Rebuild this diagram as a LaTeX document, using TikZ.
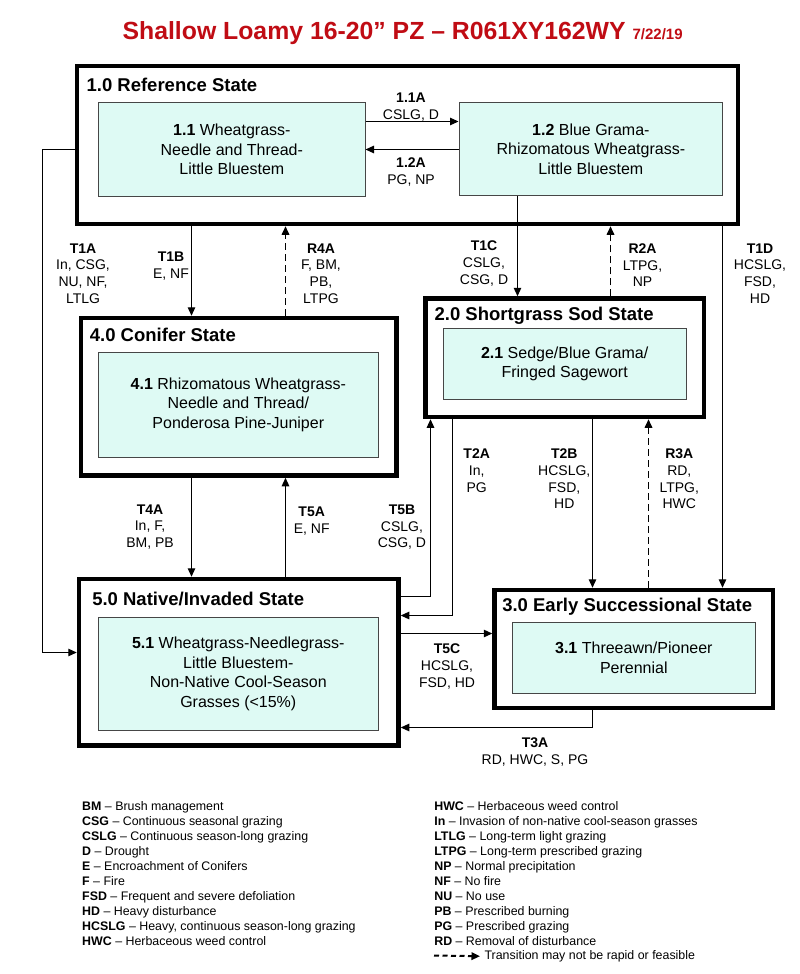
\documentclass[tikz,border=0pt]{standalone}
\usepackage{fontspec}
\setmainfont{Liberation Sans}
\usetikzlibrary{arrows.meta}

\definecolor{titlered}{RGB}{192,12,20}
\definecolor{commfill}{RGB}{222,250,244}
\definecolor{commline}{RGB}{70,70,70}

\tikzset{
  state/.style={draw, line width=4.5pt, fill=white},
  comm/.style={draw=commline, line width=1pt, fill=commfill, align=center, font=\fontsize{16}{19.5}\selectfont},
  sttitle/.style={anchor=base west, inner sep=0pt, font=\fontsize{18.5}{22}\selectfont\bfseries},
  lbl/.style={anchor=north, inner sep=0pt, align=center, font=\fontsize{14}{16.7}\selectfont},
  back/.style={dash pattern=on 7pt off 4pt, line width=1.6pt},
  legend/.style={anchor=north west, inner sep=0pt, align=left, font=\fontsize{12.4}{15}\selectfont}
}

\begin{document}
\begin{tikzpicture}[x=1pt, y=-1pt, line width=1.2pt, >={Triangle[length=8.5pt,width=7.5pt]}]

    \useasboundingbox (0,0) rectangle (800,974);

    \node[anchor=base west, inner sep=0pt, text=titlered, font=\fontsize{24.8}{28}\selectfont\bfseries] (title) at (122,39.5)
        {Shallow Loamy 16-20” PZ – R061XY162WY {\fontsize{15}{16}\selectfont 7/22/19}};

    % states
    \node[state, minimum width=661, minimum height=158] (s10) at (407.5,145) {};
    \node[state, minimum width=278.5, minimum height=118.5] (s20) at (564.75,357.75) {};
    \node[state, minimum width=278.5, minimum height=118] (s30) at (633.75,649) {};
    \node[state, minimum width=315.5, minimum height=157.5] (s40) at (238.75,396.75) {};
    \node[state, minimum width=319.5, minimum height=166.5] (s50) at (238.75,662.25) {};

    \node[sttitle] (t10) at (86,91.7) {1.0 Reference State};
    \node[sttitle] (t20) at (434,320.7) {2.0 Shortgrass Sod State};
    \node[sttitle] (t30) at (501.7,611) {3.0 Early Successional State};
    \node[sttitle] (t40) at (89.3,341) {4.0 Conifer State};
    \node[sttitle] (t50) at (91.7,605) {5.0 Native/Invaded State};

    % communities
    \node[comm, minimum width=266.3, minimum height=93.3] (c11) at (231.85,149.35)
        {\textbf{1.1} Wheatgrass-\\Needle and Thread-\\Little Bluestem};
    \node[comm, minimum width=263.7, minimum height=93] (c12) at (590.85,149.2)
        {\textbf{1.2} Blue Grama-\\Rhizomatous Wheatgrass-\\Little Bluestem};
    \node[comm, minimum width=242.7, minimum height=71] (c21) at (564.65,363.8)
        {\textbf{2.1} Sedge/Blue Grama/\\Fringed Sagewort};
    \node[comm, minimum width=242.3, minimum height=70.6] (c31) at (633.85,658)
        {\textbf{3.1} Threeawn/Pioneer\\Perennial};
    \node[comm, minimum width=280, minimum height=105] (c41) at (238.3,404.8)
        {\textbf{4.1} Rhizomatous Wheatgrass-\\Needle and Thread/\\Ponderosa Pine-Juniper};
    \node[comm, minimum width=280, minimum height=112.3] (c51) at (238.3,673.85)
        {\textbf{5.1} Wheatgrass-Needlegrass-\\Little Bluestem-\\Non-Native Cool-Season\\Grasses (<15\%)};

    % transitions
    \draw[->] (c11.east |- 0,121.5) -- (c12.west |- 0,121.5);
    \draw[->] (c12.west |- 0,149.5) -- (c11.east |- 0,149.5);
    \draw[->] (s10.west |- 0,149.5) -- (42.5,149.5) -- (42.5,652.5) -- (s50.west |- 0,652.5);
    \draw[->] (s10.south -| 191.5,0) -- (s40.north -| 191.5,0);
    \draw[->, back] (s40.north -| 285.5,0) -- (s10.south -| 285.5,0);
    \draw[->] (c12.south -| 517.5,0) -- (s20.north -| 517.5,0);
    \draw[->, back] (s20.north -| 610.5,0) -- (s10.south -| 610.5,0);
    \draw[->] (s10.south -| 722.5,0) -- (s30.north -| 722.5,0);
    \draw[->] (s20.south -| 592.5,0) -- (s30.north -| 592.5,0);
    \draw[->, back] (s30.north -| 648.5,0) -- (s20.south -| 648.5,0);
    \draw[->] (s20.south -| 452.5,0) |- (s50.east |- 0,615.5);
    \draw[->] (s50.east |- 0,596.5) -| (s20.south -| 430.5,0);
    \draw[->] (s40.south -| 191.5,0) -- (s50.north -| 191.5,0);
    \draw[->] (s50.north -| 285.5,0) -- (s40.south -| 285.5,0);
    \draw[->] (s50.east |- 0,633.5) -- (s30.west |- 0,633.5);
    \draw[->] (s30.south -| 592.5,0) |- (s50.east |- 0,727.5);

    % transition labels
    \node[lbl] (l11a) at (411,92.3) {\textbf{1.1A}\\CSLG, D};
    \node[lbl] (l12a) at (411,157.5) {\textbf{1.2A}\\PG, NP};
    \node[lbl] (lt1a) at (83,243) {\textbf{T1A}\\In, CSG,\\NU, NF,\\LTLG};
    \node[lbl] (lt1b) at (171,251.5) {\textbf{T1B}\\E, NF};
    \node[lbl] (lr4a) at (321,243) {\textbf{R4A}\\F, BM,\\PB,\\LTPG};
    \node[lbl] (lt1c) at (484,240.5) {\textbf{T1C}\\CSLG,\\CSG, D};
    \node[lbl] (lr2a) at (642.5,243) {\textbf{R2A}\\LTPG,\\NP};
    \node[lbl] (lt1d) at (760,243) {\textbf{T1D}\\HCSLG,\\FSD,\\HD};
    \node[lbl] (lt2a) at (476.7,448.3) {\textbf{T2A}\\In,\\PG};
    \node[lbl] (lt2b) at (564.3,448.3) {\textbf{T2B}\\HCSLG,\\FSD,\\HD};
    \node[lbl] (lr3a) at (679.3,448.3) {\textbf{R3A}\\RD,\\LTPG,\\HWC};
    \node[lbl] (lt4a) at (150,504) {\textbf{T4A}\\In, F,\\BM, PB};
    \node[lbl] (lt5a) at (311.7,506.7) {\textbf{T5A}\\E, NF};
    \node[lbl] (lt5b) at (402,504.3) {\textbf{T5B}\\CSLG,\\CSG, D};
    \node[lbl] (lt5c) at (447,643.3) {\textbf{T5C}\\HCSLG,\\FSD, HD};
    \node[lbl] (lt3a) at (535,737) {\textbf{T3A}\\RD, HWC, S, PG};

    % legend
    \node[legend] (legl) at (81.6,801.3) {\textbf{BM} – Brush management\\
        \textbf{CSG} – Continuous seasonal grazing\\
        \textbf{CSLG} – Continuous season-long grazing\\
        \textbf{D} – Drought\\
        \textbf{E} – Encroachment of Conifers\\
        \textbf{F} – Fire\\
        \textbf{FSD} – Frequent and severe defoliation\\
        \textbf{HD} – Heavy disturbance\\
        \textbf{HCSLG} – Heavy, continuous season-long grazing\\
        \textbf{HWC} – Herbaceous weed control};
    \node[legend] (legr) at (433.7,801.3) {\textbf{HWC} – Herbaceous weed control\\
        \textbf{In} – Invasion of non-native cool-season grasses\\
        \textbf{LTLG} – Long-term light grazing\\
        \textbf{LTPG} – Long-term prescribed grazing\\
        \textbf{NP} – Normal precipitation\\
        \textbf{NF} – No fire\\
        \textbf{NU} – No use\\
        \textbf{PB} – Prescribed burning\\
        \textbf{PG} – Prescribed grazing\\
        \textbf{RD} – Removal of disturbance};
    \node[legend, anchor=base west] (legtxt) at (484,959.5) {Transition may not be rapid or feasible};
    \coordinate (legdash) at (434,955.5);
    \draw[->, back, line width=2pt, dash pattern=on 5pt off 3.5pt, shorten >=4pt] (legdash) -- (legtxt.west);

\end{tikzpicture}
\end{document}
